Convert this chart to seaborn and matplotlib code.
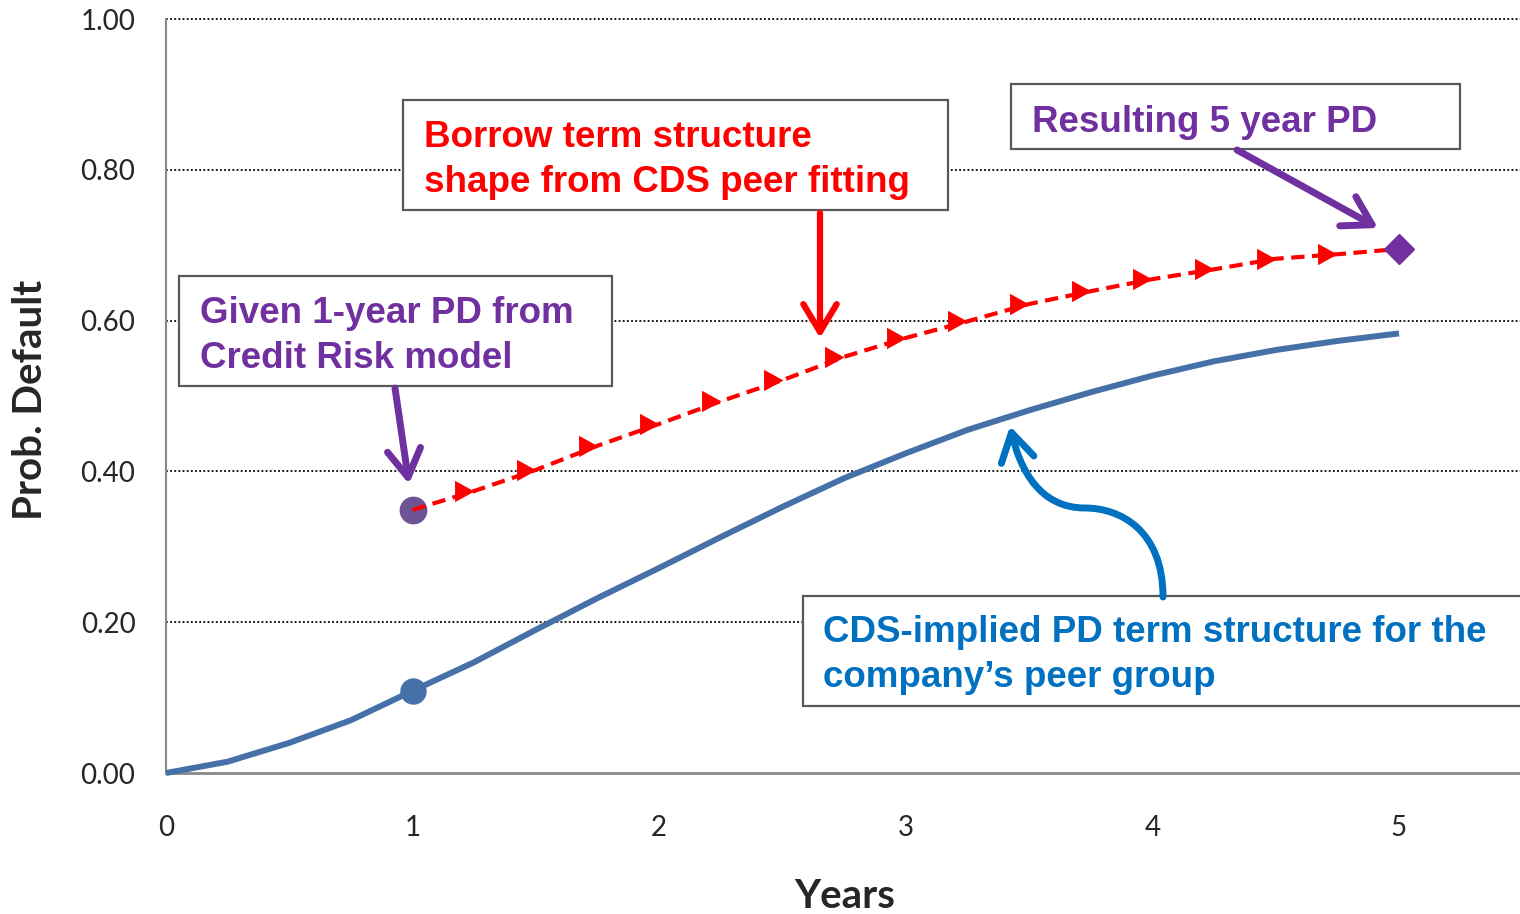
import numpy as np
import pandas as pd
import seaborn as sns
import matplotlib.pyplot as plt
from matplotlib import font_manager
from matplotlib.patches import FancyArrowPatch, Rectangle, ArrowStyle
from matplotlib.path import Path

# data
years_cds = [0, 0.25, 0.5, 0.75, 1.0, 1.25, 1.5, 1.75, 2.0, 2.25, 2.5,
             2.75, 3.0, 3.25, 3.5, 3.75, 4.0, 4.25, 4.5, 4.75, 5.0]
pd_cds = [0.0, 0.015, 0.040, 0.070, 0.109, 0.147, 0.190, 0.232, 0.272, 0.313, 0.353,
          0.391, 0.424, 0.455, 0.481, 0.505, 0.527, 0.546, 0.561, 0.573, 0.583]

years_fit = [1.0, 1.25, 1.5, 1.75, 2.0, 2.25, 2.5, 2.75, 3.0,
             3.25, 3.5, 3.75, 4.0, 4.25, 4.5, 4.75, 5.0]
pd_fit = [0.349, 0.374, 0.402, 0.434, 0.463, 0.493, 0.521, 0.552, 0.577,
          0.599, 0.622, 0.639, 0.655, 0.668, 0.682, 0.688, 0.695]

x_ticks = [0, 1, 2, 3, 4, 5]
y_ticks = [0.0, 0.2, 0.4, 0.6, 0.8, 1.0]

df_cds = pd.DataFrame({"Years": years_cds, "PD": pd_cds})
df_fit = pd.DataFrame({"Years": years_fit, "PD": pd_fit})

sns.set_style("white")
plt.rcParams['font.family'] = ['Lato', 'DejaVu Sans']

arial_file = font_manager.findfont(font_manager.FontProperties(family='Liberation Sans', weight='bold'),
                                   fallback_to_default=False)
arial = font_manager.FontProperties(fname=arial_file)

W, H = 1520, 914
fig = plt.figure(figsize=(W / 100, H / 100), dpi=100)
ax = fig.add_axes([166 / W, 1 - 773 / H, 1354 / W, 754 / H])

def fx(px):
    return px / W

def fy(py):
    return 1 - py / H

# gridlines
ax.grid(False)
for yv in y_ticks[1:]:
    ax.axhline(yv, color='black', lw=1.3, ls=(0, (1, 1.3)), zorder=0.5, clip_on=False)

# CDS peer curve
sns.lineplot(data=df_cds, x="Years", y="PD", ax=ax, color='#4571A8', lw=4.3,
             clip_on=False, zorder=3, solid_capstyle='butt', solid_joinstyle='round')
ax.plot(years_cds[4], pd_cds[4], 'o', ms=18, color='#4571A8', zorder=4)

# fitted red curve
tri = [(-1, -0.55), (0, 0), (-1, 0.55), (-1, -0.55)]
ax.plot(years_fit[0], pd_fit[0], 'o', ms=19, color='#6E5494', zorder=3)
sns.lineplot(data=df_fit, x="Years", y="PD", ax=ax, color='#FF0000', lw=3,
             linestyle=(0, (3.2, 1.8)), marker=tri, markersize=28, markeredgewidth=0,
             markevery=list(range(1, len(years_fit) - 1)), zorder=4, clip_on=False)
ax.plot(years_fit[-1], pd_fit[-1], 'D', ms=15, color='#7030A0', zorder=5, clip_on=False)

ax.set_xlim(0, 1354 / 246.6)
ax.set_ylim(0, 1)
ax.set_xticks(x_ticks)
ax.set_yticks(y_ticks)
ax.set_yticklabels([f"{v:.2f}" for v in y_ticks])
ax.tick_params(axis='x', length=7, width=1.5, color='#898989', pad=23, labelsize=20)
ax.tick_params(axis='y', length=0, pad=22, labelsize=20)
for s in ['top', 'right']:
    ax.spines[s].set_visible(False)
ax.spines['left'].set_color('#898989')
ax.spines['left'].set_linewidth(1.5)
ax.spines['bottom'].set_color('#898989')
ax.spines['bottom'].set_linewidth(2)

ax.set_xlabel("Years", fontsize=29, fontweight='bold')
ax.set_ylabel("Prob. Default", fontsize=29, fontweight='bold')
ax.xaxis.set_label_coords((845 - 166) / 1354, (773 - 897) / 754)
ax.xaxis.label.set_va('center')
ax.yaxis.set_label_coords((31 - 166) / 1354, (773 - 400) / 754)
ax.yaxis.label.set_va('center')

# callout boxes (pixel positions)
boxes = [(179, 276, 612, 386), (403, 100, 948, 210), (1011, 84, 1460, 149), (803, 596, 1530, 706)]
for x0, y0, x1, y1 in boxes:
    fig.add_artist(Rectangle((fx(x0), fy(y1)), (x1 - x0) / W, (y1 - y0) / H,
                             transform=fig.transFigure, fc='white', ec='#595959', lw=1.6, zorder=2))

notes = [
    (200, 323, "Given 1-year PD from", '#7030A0'),
    (200, 368, "Credit Risk model", '#7030A0'),
    (424, 147, "Borrow term structure", '#FF0000'),
    (424, 192, "shape from CDS peer fitting", '#FF0000'),
    (1032, 132, "Resulting 5 year PD", '#7030A0'),
    (823, 642, "CDS-implied PD term structure for the", '#0070C0'),
    (823, 687, "company\u2019s peer group", '#0070C0'),
]
for px, py, s, c in notes:
    fig.text(fx(px), fy(py), s, color=c, fontproperties=arial, fontsize=26.5,
             ha='left', va='baseline', zorder=6)

# arrows
def arrow(p0, p1, color, lw=5, hl=20, hw=12):
    a = FancyArrowPatch((fx(p0[0]), fy(p0[1])), (fx(p1[0]), fy(p1[1])),
                        transform=fig.transFigure,
                        arrowstyle=ArrowStyle('->', head_length=hl, head_width=hw),
                        color=color, lw=lw, shrinkA=0, shrinkB=0,
                        capstyle='round', joinstyle='round', zorder=5)
    fig.add_artist(a)

arrow((395, 388), (409, 484), '#7030A0')
arrow((820, 213), (820, 338), '#FF0000', lw=4.5)
arrow((1237, 150), (1378, 228), '#7030A0')

pts = [(1163, 597), (1163, 530), (1120, 508), (1085, 508),
       (1040, 508), (1020, 470), (1010, 426)]
codes = [Path.MOVETO] + [Path.CURVE4] * 6
curve = Path([(fx(a), fy(b)) for a, b in pts], codes)
fig.add_artist(FancyArrowPatch(path=curve, transform=fig.transFigure,
                               arrowstyle=ArrowStyle('->', head_length=20, head_width=12),
                               color='#0070C0', lw=5, capstyle='round',
                               joinstyle='round', zorder=5))

plt.savefig('out.png', dpi=100)
plt.close()
